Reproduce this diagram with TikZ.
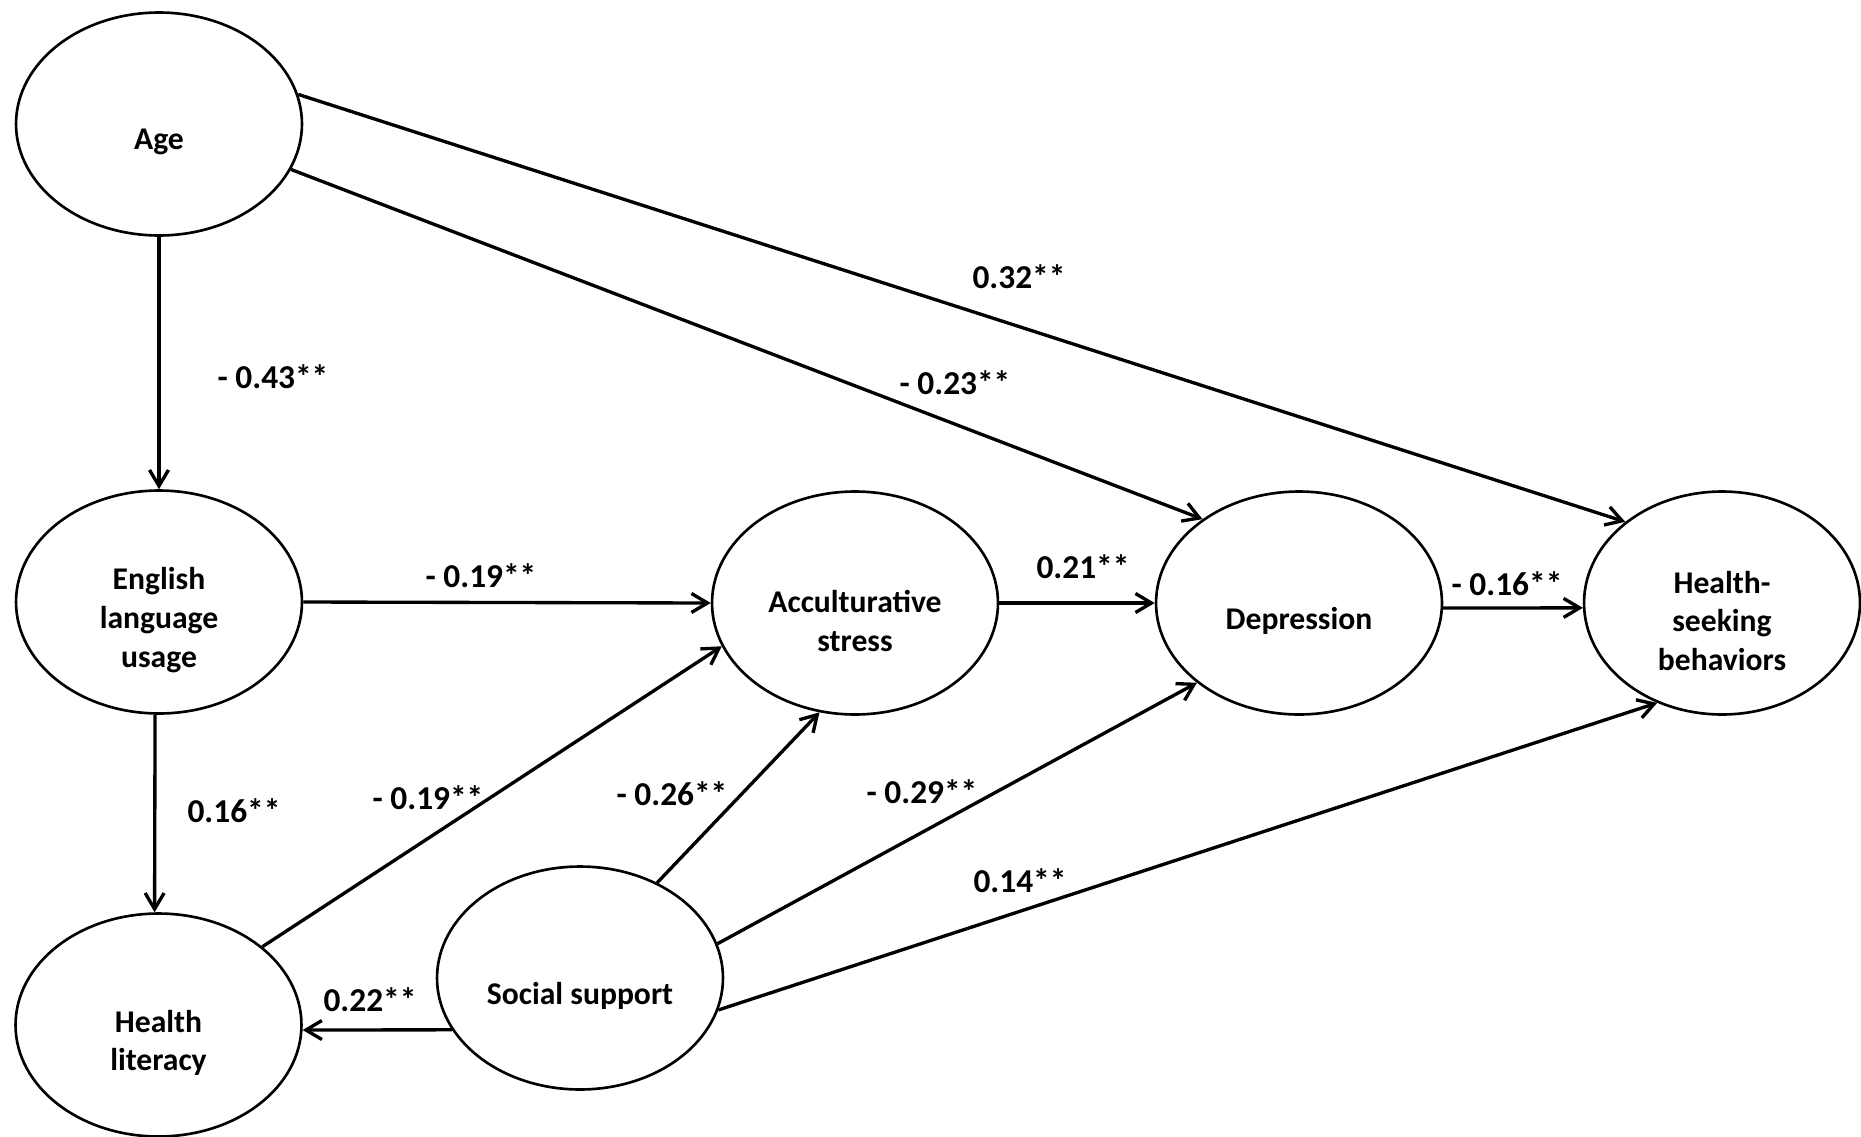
\documentclass[tikz,border=0pt]{standalone}
\usepackage{fontspec}
\setmainfont{Carlito}
\usetikzlibrary{arrows.meta,shapes.geometric}
\begin{document}
\begin{tikzpicture}[x=0.02cm,y=-0.02cm,
  ell/.style={draw, ellipse, line width=1.5pt, minimum width=5.72cm, minimum height=4.46cm, inner sep=0pt},
  etext/.style={font=\fontsize{18}{22}\selectfont\bfseries, align=center, yshift=-0.36cm, inner sep=0pt},
  coef/.style={font=\fontsize{19}{22}\selectfont\bfseries, inner sep=0pt},
  arr/.style={line width=1.9pt, -{Straight Barb[length=0.32cm,width=0.38cm]}}]
\useasboundingbox (0,0) rectangle (1861,1136);
% latent variables
\node[ell, label={[etext,name=ageT]center:Age}] (age) at (159,124) {};
\node[ell, label={[etext,name=engT]center:English\\language\\usage}] (eng) at (159,602) {};
\node[ell, label={[etext,name=hlT]center:Health\\literacy}] (hl) at (158.5,1025) {};
\node[ell, label={[etext,name=ssT]center:Social support}] (ss) at (580,978) {};
\node[ell, label={[etext,name=accT]center:Acculturative\\stress}] (acc) at (855,603) {};
\node[ell, label={[etext,name=depT]center:Depression}] (dep) at (1299,603) {};
\node[ell, minimum width=5.52cm, label={[etext,name=hsbT]center:Health-\\seeking\\behaviors}] (hsb) at (1722,603) {};
% paths
\draw[arr] (age.south) -- (eng.north);
\draw[arr] (eng.east) -- (acc.west);
\draw[arr] (eng.-92.5) -- (hl.92.5);
\draw[arr] (hl.37.2) -- (acc.198.7);
\draw[arr] (ss.202.6) -- (hl.-2.9);
\draw[arr] (ss.51) -- (acc.252.9);
\draw[arr] (ss.14.7) -- (dep.218.7);
\draw[arr] (ss.-13) -- (hsb.237.9);
\draw[arr] (age.-19) -- (dep.139.8);
\draw[arr] (age.12.3) -- (hsb.140.5);
\draw[arr] (acc.east) -- (dep.west);
\draw[arr] (dep.-2) -- (hsb.182);
% coefficients
\node[coef] (c43) at (273,377) {- 0.43**};
\node[coef] (c19a) at (481,576) {- 0.19**};
\node[coef] (c16a) at (234,811) {0.16**};
\node[coef] (c19b) at (428,798) {- 0.19**};
\node[coef] (c22) at (370,1000) {0.22**};
\node[coef] (c26) at (672,794) {- 0.26**};
\node[coef] (c29) at (922,792) {- 0.29**};
\node[coef] (c14) at (1020,881) {0.14**};
\node[coef] (c23) at (955,383) {- 0.23**};
\node[coef] (c32) at (1019,277) {0.32**};
\node[coef] (c21) at (1083,567) {0.21**};
\node[coef] (c16b) at (1507,584) {- 0.16**};
\end{tikzpicture}
\end{document}
